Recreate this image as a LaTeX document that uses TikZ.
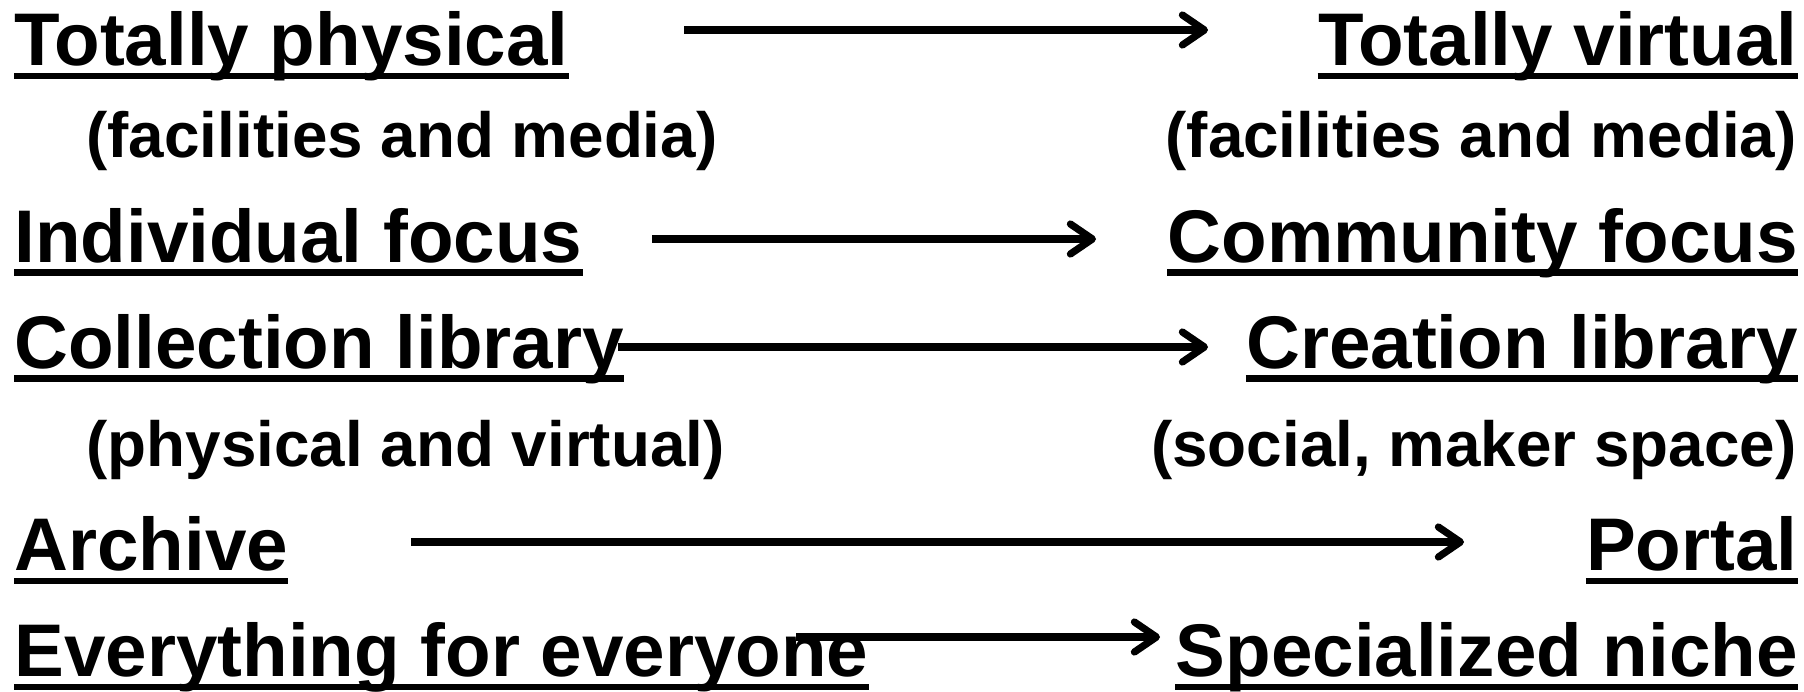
\documentclass[tikz,border=0pt]{standalone}
\usepackage{fontspec}
\setmainfont{Liberation Sans}
\usetikzlibrary{arrows.meta}
\begin{document}
\begin{tikzpicture}[x=0.5pt,y=-0.5pt,
  main/.style={inner sep=0pt, font=\fontsize{37.3}{44}\selectfont\bfseries},
  sub/.style={inner sep=0pt, font=\fontsize{31.9}{38}\selectfont\bfseries},
  uline/.style={line width=3.3pt},
  arr/.style={line width=3.6pt, -{Straight Barb[length=11pt,width=15pt,line cap=round,line join=round]}}]
\useasboundingbox (0,0) rectangle (1804,691);
% left column
\node[main, anchor=base west] (tp) at (14,65.6) {Totally physical};
\node[sub,  anchor=base west] (fl) at (86,157.6) {(facilities and media)};
\node[main, anchor=base west] (if) at (14,262.3) {Individual focus};
\node[main, anchor=base west] (cl) at (14,368.2) {Collection library};
\node[sub,  anchor=base west] (pv) at (86,466) {(physical and virtual)};
\node[main, anchor=base west] (ar) at (14,570.6) {Archive};
\node[main, anchor=base west] (ee) at (14,676.5) {Everything for everyone};
% right column
\node[main, anchor=base east] (tv) at (1798,65.6) {Totally virtual};
\node[sub,  anchor=base east] (fr) at (1797,157.6) {(facilities and media)};
\node[main, anchor=base east] (cf) at (1798,262.3) {Community focus};
\node[main, anchor=base east] (cr) at (1798,368.2) {Creation library};
\node[sub,  anchor=base east] (sm) at (1797,466) {(social, maker space)};
\node[main, anchor=base east] (po) at (1798,570.6) {Portal};
\node[main, anchor=base east] (sn) at (1798,676.5) {Specialized niche};
% underlines
\foreach \n in {tp,if,cl,ar,ee,tv,cf,cr,po,sn}
  \draw[uline] ([yshift=-5.2pt]\n.base west) -- ([yshift=-5.2pt]\n.base east);
% arrows
\coordinate (a1s) at (684,30);  \coordinate (a1e) at (1208,30);
\coordinate (a2s) at (652,239); \coordinate (a2e) at (1096,239);
\coordinate (a3s) at (618,347); \coordinate (a3e) at (1208,347);
\coordinate (a4s) at (411,542); \coordinate (a4e) at (1464,542);
\coordinate (a5s) at (796,637); \coordinate (a5e) at (1160,637);
\draw[arr] (a1s) -- (a1e);
\draw[arr] (a2s) -- (a2e);
\draw[arr] (a3s) -- (a3e);
\draw[arr] (a4s) -- (a4e);
\draw[arr] (a5s) -- (a5e);
\end{tikzpicture}
\end{document}
